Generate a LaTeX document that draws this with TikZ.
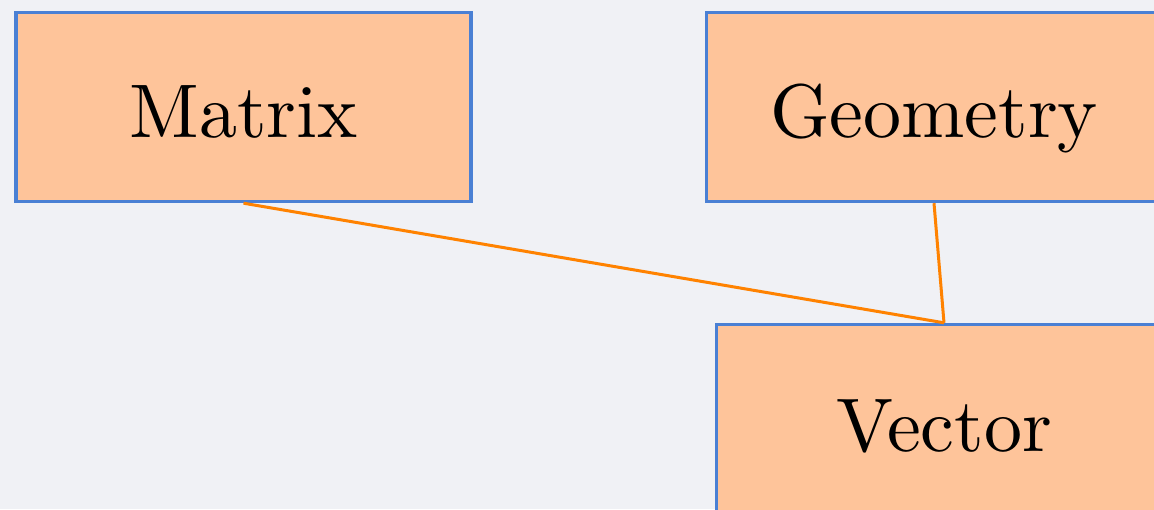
\documentclass[tikz,border=0pt]{standalone}
\usepackage{fontspec}
\newfontfamily\lmten{lmroman10-regular}[Extension=.otf]
\definecolor{bgcol}{HTML}{F0F1F5}
\definecolor{boxfill}{HTML}{FEC49A}
\definecolor{boxline}{HTML}{4A80D4}
\definecolor{linkcol}{HTML}{FF8200}
\begin{document}
\begin{tikzpicture}[x=1pt,y=-1pt,
  topic/.style={rectangle, draw=boxline, fill=boxfill, line width=3.4pt,
    inner sep=0pt, minimum width=455pt, font=\lmten\fontsize{76}{90}\selectfont,
    text height=60pt, text depth=0pt},
  link/.style={draw=linkcol, line width=3pt}]
  \useasboundingbox (0,0) rectangle (1154,509);
  \clip (0,0) rectangle (1154,509);
  \fill[bgcol] (0,0) rectangle (1154,509);
  % topic boxes
  \node[topic, minimum height=189pt] (matrix) at (243.5,107) {Matrix};
  \node[topic, minimum height=189pt] (geometry) at (934,107) {Geometry};
  \node[topic, minimum height=193pt] (vector) at (944,421) {Vector};
  % links to the vector box
  \draw[link] (matrix.south) -- (vector.north);
  \draw[link] (geometry.south) -- (vector.north);
\end{tikzpicture}
\end{document}
